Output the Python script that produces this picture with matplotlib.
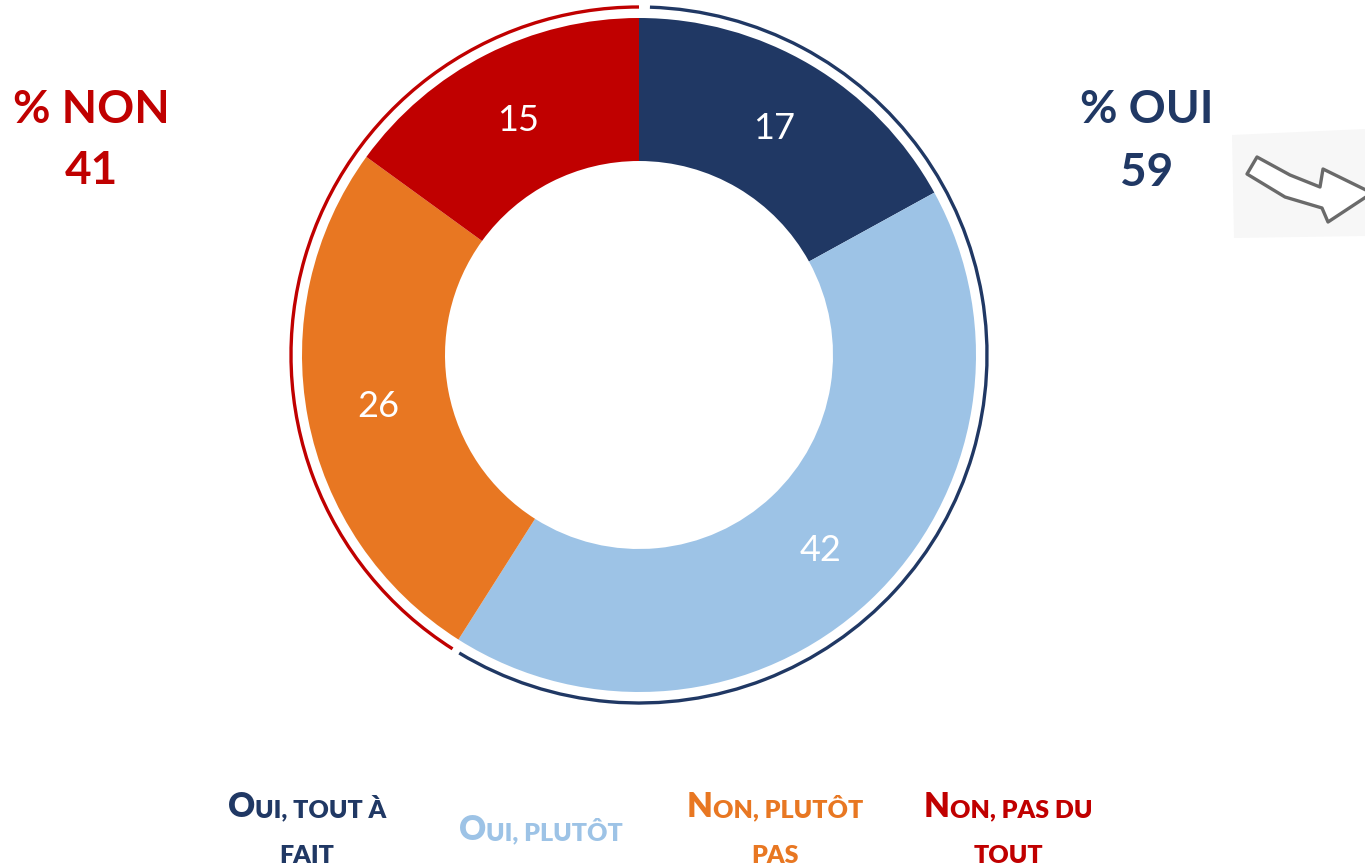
import matplotlib
matplotlib.use("Agg")
import matplotlib.pyplot as plt
from matplotlib.patches import Arc, Polygon
import numpy as np

# ---- data ----
categories = ["Oui, tout à fait", "Oui, plutôt", "Non, plutôt pas", "Non, pas du tout"]
values = [17, 42, 26, 15]
colors = ["#203864", "#9DC3E6", "#E87722", "#C00000"]
total_oui = 59
total_non = 41
legend_lines = [
    [[("O", "big"), ("UI, TOUT À", "small")], [("FAIT", "small")]],
    [[("O", "big"), ("UI, PLUTÔT", "small")]],
    [[("N", "big"), ("ON, PLUTÔT", "small")], [("PAS", "small")]],
    [[("N", "big"), ("ON, PAS DU", "small")], [("TOUT", "small")]],
]

W, H = 1365, 867
fig = plt.figure(figsize=(W / 100, H / 100), dpi=100)
ax = fig.add_axes([0, 0, 1, 1])

cx, cy = 639, H - 355
R, r_in = 337, 194
wedges, _ = ax.pie(values, colors=colors, startangle=90, counterclock=False,
                   radius=R, center=(cx, cy), frame=True,
                   wedgeprops=dict(width=R - r_in, linewidth=0))
ax.set_xlim(0, W)
ax.set_ylim(0, H)
ax.set_aspect("equal")
ax.axis("off")

# slice labels
for w, v in zip(wedges, values):
    mid = np.deg2rad((w.theta1 + w.theta2) / 2)
    rr = (R + r_in) / 2
    ax.text(cx + rr * np.cos(mid), cy + rr * np.sin(mid) - 2, f"{v}", color="white",
            fontsize=26, family="Lato", ha="center", va="center")

# outer arcs
split = wedges[1].theta1  # boundary between oui and non
Ra = 348
ax.add_patch(Arc((cx, cy), 2 * Ra, 2 * Ra, theta1=split + 1.3, theta2=88.2,
                 color="#203864", lw=2.4))
ax.add_patch(Arc((cx, cy), 2 * Ra, 2 * Ra, theta1=90.0, theta2=split + 360,
                 color="#C00000", lw=2.4))

# titles
tkw = dict(fontsize=33, fontweight="bold", family="Lato", ha="center", va="center")
ax.text(91, H - 110, "% NON", color="#C00000", **tkw)
ax.text(91, H - 171, f"{total_non}", color="#C00000", **tkw)
ax.text(1147, H - 110, "% OUI", color="#203864", **tkw)
ax.text(1147, H - 173, f"{total_oui}", color="#203864", **tkw)

# arrow decoration
ax.add_patch(Polygon([(1232, H - 135), (1365, H - 129), (1365, H - 236), (1234, H - 238)],
                     closed=True, facecolor="#F7F7F7", edgecolor="none"))
arrow_pts = [(1257, 157), (1290, 175), (1320, 187), (1323, 169), (1372, 193),
             (1328, 222), (1322, 208), (1285, 197), (1247, 174)]
ax.add_patch(Polygon([(x, H - y) for x, y in arrow_pts], closed=True,
                     facecolor="white", edgecolor="#6A6A6A", lw=2.4, joinstyle="round"))

# legend in small caps
sizes = {"big": 24, "small": 18}
renderer = fig.canvas.get_renderer()
centers = [307, 541, 775, 1008]
baselines = {2: [817, 863], 1: [840]}
for xc, lines, col in zip(centers, legend_lines, colors):
    for line, yb in zip(lines, baselines[len(lines)]):
        texts = []
        for s, kind in line:
            t = ax.text(0, H - yb, s, color=col, fontsize=sizes[kind], fontweight="heavy",
                        family="Lato", ha="left", va="baseline")
            texts.append(t)
        widths = [t.get_window_extent(renderer).width for t in texts]
        x = xc - sum(widths) / 2
        for t, wd in zip(texts, widths):
            t.set_x(x)
            x += wd

fig.savefig("out.png", dpi=100)
